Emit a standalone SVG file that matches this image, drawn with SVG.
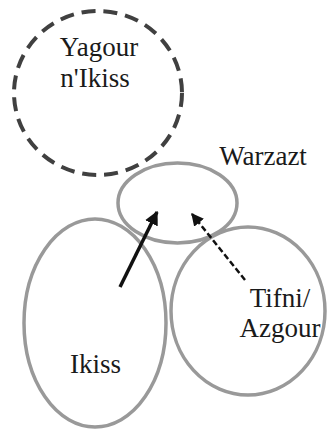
<svg xmlns="http://www.w3.org/2000/svg" width="327" height="430" viewBox="0 0 327 430">
<style>
.region{fill:none;stroke:#999;stroke-width:3.5}
.lbl{font-family:'Liberation Serif','DejaVu Serif','Times New Roman',serif;font-size:27px;fill:#1a1a1a;text-anchor:middle}
</style>
<defs>
<marker id="ah" viewBox="0 0 10 10" refX="9" refY="5" markerWidth="4" markerHeight="4" orient="auto" markerUnits="strokeWidth">
<path d="M0,0 L10,5 L0,10 z" fill="#111"/>
</marker>
<marker id="ah2" viewBox="0 0 10 10" refX="9" refY="5" markerWidth="5" markerHeight="5" orient="auto" markerUnits="strokeWidth">
<path d="M0,0 L10,5 L0,10 z" fill="#111"/>
</marker>
</defs>
<rect width="327" height="430" fill="#fff"/>
<g id="yagour">
<ellipse cx="98" cy="93" rx="84" ry="82" fill="none" stroke="#404040" stroke-width="4" stroke-dasharray="14 8"/>
<text class="lbl" x="99" y="56">Yagour</text>
<text class="lbl" x="95" y="87">n'Ikiss</text>
</g>
<g id="warzazt">
<ellipse class="region" cx="177.5" cy="203" rx="59.5" ry="40"/>
<text class="lbl" x="263" y="165">Warzazt</text>
</g>
<g id="ikiss">
<ellipse class="region" cx="95" cy="323" rx="71" ry="104"/>
<text class="lbl" x="95.5" y="373">Ikiss</text>
</g>
<g id="tifni">
<ellipse class="region" cx="248" cy="311" rx="77" ry="84"/>
<text class="lbl" x="280" y="307">Tifni/</text>
<text class="lbl" x="280" y="337">Azgour</text>
</g>
<g id="connectors">
<line x1="120" y1="287" x2="157" y2="212" stroke="#111" stroke-width="3.5" marker-end="url(#ah)"/>
<line x1="245" y1="280" x2="192" y2="214" stroke="#111" stroke-width="2.5" stroke-dasharray="6 3" marker-end="url(#ah2)"/>
</g>
</svg>
